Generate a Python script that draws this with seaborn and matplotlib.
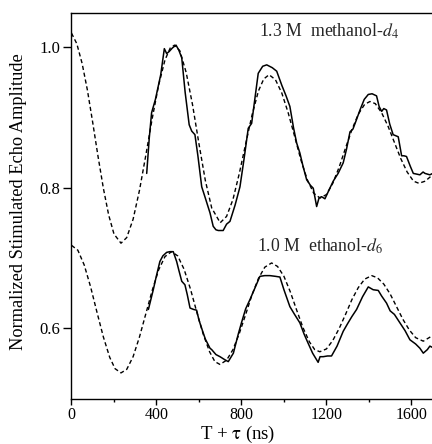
import numpy as np
import pandas as pd
import matplotlib
matplotlib.use("Agg")
import matplotlib.pyplot as plt
from matplotlib.ticker import MultipleLocator
import seaborn as sns

# ---- data (time in ns, normalized amplitude) ----
meth_fit_t = [0, 25, 50, 75, 100, 125, 150, 175, 200, 233, 260, 290, 320, 350, 380, 410,
              440, 465, 485, 510, 540, 570, 600, 630, 660, 700, 730, 760, 790, 820, 850,
              880, 905, 930, 960, 990, 1020, 1050, 1080, 1110, 1140, 1170, 1200, 1230,
              1260, 1290, 1320, 1350, 1380, 1405, 1430, 1460, 1490, 1520, 1550, 1580,
              1610, 1635, 1665, 1700]
meth_fit_y = [1.019, 1.004, 0.976, 0.938, 0.892, 0.844, 0.799, 0.761, 0.734, 0.721, 0.729,
              0.755, 0.796, 0.846, 0.898, 0.945, 0.981, 0.998, 1.002, 0.994, 0.963, 0.917,
              0.862, 0.810, 0.771, 0.750, 0.759, 0.783, 0.820, 0.862, 0.903, 0.937, 0.954,
              0.960, 0.953, 0.934, 0.906, 0.873, 0.839, 0.811, 0.792, 0.785, 0.790, 0.806,
              0.829, 0.856, 0.882, 0.904, 0.918, 0.922, 0.919, 0.906, 0.887, 0.864, 0.841,
              0.822, 0.809, 0.806, 0.809, 0.818]

meth_data_t = [354, 366, 377, 395, 420, 437, 448, 460, 475, 492, 505, 519, 535, 554, 566,
               581, 595, 613, 630, 652, 667, 680, 691, 714, 730, 746, 770, 793, 812, 832,
               848, 865, 879, 900, 919, 945, 966, 990, 1010, 1028, 1045, 1060, 1075, 1090,
               1107, 1125, 1138, 1154, 1165, 1177, 1193, 1210, 1232, 1255, 1279, 1295,
               1311, 1325, 1340, 1358, 1378, 1397, 1415, 1436, 1448, 1460, 1470, 1483,
               1498, 1514, 1530, 1538, 1554, 1565, 1577, 1595, 1609, 1625, 1640, 1655,
               1664, 1687, 1700]
meth_data_y = [0.820, 0.870, 0.906, 0.925, 0.960, 0.997, 0.990, 0.993, 0.998, 1.002, 0.995,
               0.984, 0.935, 0.889, 0.880, 0.875, 0.845, 0.801, 0.785, 0.764, 0.745, 0.740,
               0.739, 0.739, 0.748, 0.752, 0.775, 0.801, 0.840, 0.884, 0.891, 0.930, 0.962,
               0.972, 0.974, 0.970, 0.965, 0.945, 0.930, 0.915, 0.885, 0.863, 0.849, 0.830,
               0.811, 0.803, 0.799, 0.773, 0.785, 0.787, 0.784, 0.795, 0.809, 0.820, 0.835,
               0.855, 0.879, 0.883, 0.895, 0.910, 0.925, 0.932, 0.933, 0.930, 0.915, 0.908,
               0.912, 0.910, 0.890, 0.875, 0.873, 0.872, 0.845, 0.845, 0.844, 0.830, 0.820,
               0.819, 0.818, 0.822, 0.820, 0.818, 0.820]

eth_fit_t = [0, 30, 60, 90, 120, 150, 180, 205, 233, 260, 290, 320, 350, 380, 410, 440,
             471, 500, 530, 560, 590, 620, 650, 675, 699, 730, 760, 790, 820, 850, 880,
             910, 942, 970, 1000, 1030, 1060, 1090, 1120, 1145, 1169, 1200, 1230, 1260,
             1290, 1320, 1350, 1380, 1413, 1440, 1470, 1500, 1530, 1560, 1590, 1620,
             1656, 1700]
eth_fit_y = [0.718, 0.711, 0.690, 0.659, 0.623, 0.588, 0.559, 0.543, 0.537, 0.542, 0.560,
             0.588, 0.621, 0.654, 0.683, 0.702, 0.709, 0.703, 0.684, 0.656, 0.623, 0.592,
             0.567, 0.553, 0.549, 0.555, 0.570, 0.593, 0.620, 0.648, 0.671, 0.687, 0.693,
             0.688, 0.674, 0.652, 0.626, 0.601, 0.581, 0.570, 0.567, 0.571, 0.583, 0.600,
             0.620, 0.641, 0.658, 0.670, 0.675, 0.672, 0.663, 0.649, 0.631, 0.613, 0.598,
             0.587, 0.582, 0.590]

eth_data_t = [362, 385, 400, 416, 430, 448, 463, 479, 495, 505, 519, 534, 545, 558, 575,
              589, 600, 613, 630, 652, 660, 680, 699, 720, 738, 750, 762, 785, 800, 820,
              840, 860, 887, 910, 934, 960, 981, 1000, 1028, 1050, 1075, 1095, 1114, 1135,
              1161, 1170, 1185, 1205, 1224, 1250, 1279, 1300, 1320, 1342, 1370, 1397, 1420,
              1444, 1460, 1483, 1500, 1520, 1546, 1570, 1593, 1620, 1640, 1656, 1675, 1687,
              1700]
eth_data_y = [0.627, 0.655, 0.675, 0.695, 0.703, 0.708, 0.709, 0.709, 0.695, 0.683, 0.667,
              0.662, 0.648, 0.629, 0.627, 0.626, 0.612, 0.600, 0.585, 0.572, 0.570, 0.563,
              0.560, 0.556, 0.553, 0.559, 0.565, 0.592, 0.608, 0.628, 0.641, 0.655, 0.674,
              0.675, 0.675, 0.674, 0.673, 0.655, 0.631, 0.620, 0.608, 0.592, 0.579, 0.565,
              0.552, 0.560, 0.560, 0.561, 0.561, 0.575, 0.596, 0.607, 0.617, 0.627, 0.645,
              0.659, 0.655, 0.654, 0.646, 0.636, 0.625, 0.620, 0.608, 0.597, 0.584, 0.578,
              0.572, 0.565, 0.570, 0.575, 0.573]

x_ticks = [0, 400, 800, 1200, 1600]
y_ticks = [0.6, 0.8, 1.0]

# ---- style ----
sns.set_theme(style="ticks")
plt.rcParams["font.family"] = ["Liberation Serif", "DejaVu Serif"]
plt.rcParams["mathtext.fontset"] = "stix"

fig = plt.figure(figsize=(4.32, 4.44), dpi=100)
ax = fig.add_axes([0.1655, 0.1014, 0.8345, 0.87])

dashed = dict(color="black", linewidth=1.0, linestyle=(0, (3, 2)), sort=False, estimator=None)
solid = dict(color="black", linewidth=1.1, sort=False, estimator=None)

sns.lineplot(x=meth_fit_t, y=meth_fit_y, ax=ax, **dashed)
sns.lineplot(x=meth_data_t, y=meth_data_y, ax=ax, **solid)
sns.lineplot(x=eth_fit_t, y=eth_fit_y, ax=ax, **dashed)
sns.lineplot(x=eth_data_t, y=eth_data_y, ax=ax, **solid)

ax.set_xlim(0, 1697)
ax.set_ylim(0.5, 1.048)
ax.set_xticks(x_ticks)
ax.set_xticklabels([str(v) for v in x_ticks])
ax.xaxis.set_minor_locator(MultipleLocator(200))
ax.set_yticks(y_ticks)
ax.set_yticklabels([f"{v:.1f}" for v in y_ticks])

ax.tick_params(axis="x", which="major", direction="out", length=4.3, width=1,
               labelsize=11.5, color="black", labelcolor="black", pad=1.5)
ax.tick_params(axis="y", which="major", direction="out", length=5.8, width=1,
               labelsize=12, color="black", labelcolor="black", pad=2)
ax.tick_params(axis="x", which="minor", direction="out", length=2.2, width=1, color="black")

for side in ["left", "bottom", "top"]:
    ax.spines[side].set_color("black")
    ax.spines[side].set_linewidth(1.0)
ax.spines["right"].set_visible(False)

ax.set_xlabel(r"T + $\mathrm{\tau}$ (ns)", fontsize=13.5, color="black")
ax.xaxis.set_label_coords(0.462, -0.064)
ax.set_ylabel("Normalized Stimulated Echo Amplitude", fontsize=13.2, color="black")
ax.yaxis.set_label_coords(-0.146, 0.51)
ax.yaxis.label.set_va("center")

ax.text(882, 1.021, r"1.3 M  methanol-$d_4$", fontsize=12.8, ha="left", va="center")
ax.text(872, 0.716, r"1.0 M  ethanol-$d_6$", fontsize=12.8, ha="left", va="center")

fig.savefig("out.png", dpi=100)
